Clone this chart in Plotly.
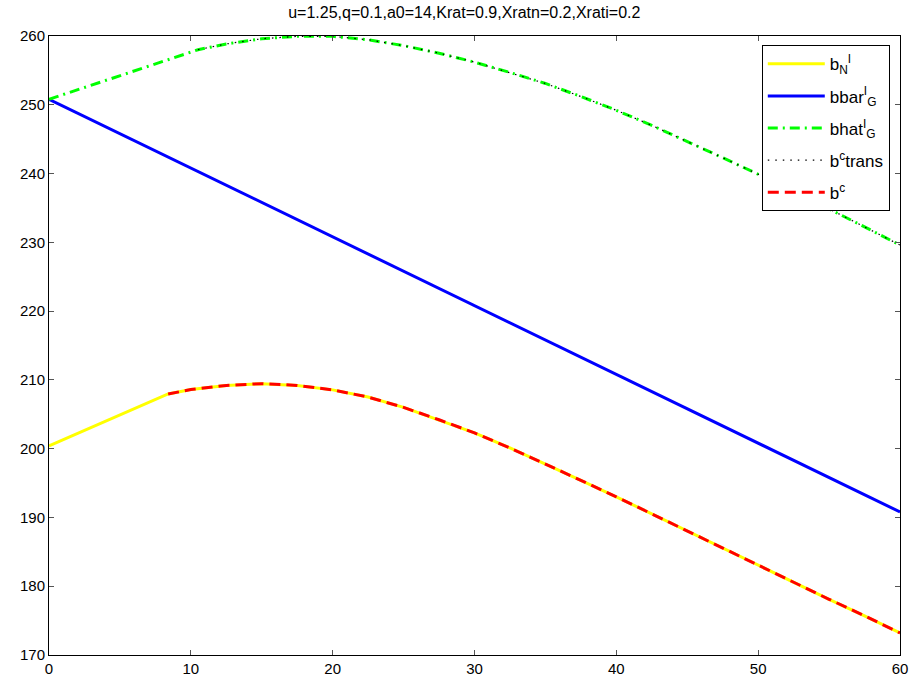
import plotly.graph_objects as go

# Time grid and series values
x_lin_N = [0, 8.4]
bN_lin = [200.4, 207.95]

x_curve_N = [8.4, 10, 12.5, 15, 17.5, 20, 22.5, 25, 27.5, 30, 32.5, 35, 37.5,
             40, 42.5, 45, 47.5, 50, 52.5, 55, 57.5, 60]
bN_curve = [207.95, 208.6, 209.2, 209.45, 209.2, 208.55, 207.5, 206.0, 204.2,
            202.3, 200.1, 197.8, 195.4, 193.0, 190.5, 188.0, 185.5, 183.1,
            180.6, 178.1, 175.7, 173.2]

x_bar = [0, 60]
bbar_G = [250.8, 190.8]

x_lin_G = [0, 10.5]
bhat_lin = [250.8, 258.0]

x_curve_G = [10.5, 12.5, 15, 17.5, 20, 22.5, 25, 27.5, 30, 32.5, 35, 37.5, 40,
             42.5, 45, 47.5, 50, 52.5, 55, 57.5, 60]
bhat_curve = [258.0, 258.85, 259.6, 259.95, 259.95, 259.45, 258.6, 257.5,
              256.2, 254.7, 253.1, 251.2, 249.2, 247.0, 244.7, 242.3, 239.9,
              237.4, 234.85, 232.25, 229.6]

title_text = "u=1.25,q=0.1,a0=14,Krat=0.9,Xratn=0.2,Xrati=0.2"

FONT = "Liberation Sans, Arial"

fig = go.Figure()

fig.add_trace(go.Scatter(
    x=x_lin_N + x_curve_N[1:], y=bN_lin + bN_curve[1:], mode="lines",
    name="b<sub>N</sub><sup>I</sup>", legendgroup="g1",
    line=dict(color="#ffff00", width=3)))

fig.add_trace(go.Scatter(
    x=x_bar, y=bbar_G, mode="lines",
    name="bbar<sup>I</sup><sub>G</sub>", legendgroup="g2",
    line=dict(color="#0000ff", width=3)))

fig.add_trace(go.Scatter(
    x=x_lin_G + x_curve_G[1:], y=bhat_lin + bhat_curve[1:], mode="lines",
    name="bhat<sup>I</sup><sub>G</sub>", legendgroup="g3",
    line=dict(color="#00ff00", width=3, dash="10px,5px,2px,5px")))

fig.add_trace(go.Scatter(
    x=x_curve_G, y=bhat_curve, mode="lines",
    name="b<sup>c</sup>trans", legendgroup="g4",
    line=dict(color="#000000", width=1.2, dash="1.5px,6px")))

fig.add_trace(go.Scatter(
    x=x_curve_N, y=bN_curve, mode="lines",
    name="b<sup>c</sup>", legendgroup="g5",
    line=dict(color="#ff0000", width=3, dash="11px,6px")))

axis_common = dict(
    showgrid=False, zeroline=False, showline=True, linecolor="black",
    linewidth=1, mirror="ticks", ticks="inside", ticklen=5,
    tickcolor="#555555", automargin=False,
    tickfont=dict(family=FONT, size=15, color="black"),
)

fig.update_xaxes(range=[0, 60], dtick=10, tick0=0, **axis_common)
fig.update_yaxes(range=[170, 260], dtick=10, tick0=170, **axis_common)

fig.update_layout(
    width=914, height=683,
    margin=dict(l=49, r=14, t=36, b=28, autoexpand=False),
    plot_bgcolor="white", paper_bgcolor="white",
    title=dict(text=title_text, x=0.508, xanchor="center", y=0.99,
               yanchor="top",
               font=dict(family=FONT, size=16, color="black")),
    legend=dict(x=0.988, xanchor="right", y=0.985, yanchor="top",
                bgcolor="white", bordercolor="black", borderwidth=1,
                itemwidth=57, tracegroupgap=7,
                font=dict(family=FONT, size=17, color="black")),
    showlegend=True,
)

fig.write_html("out.html")
